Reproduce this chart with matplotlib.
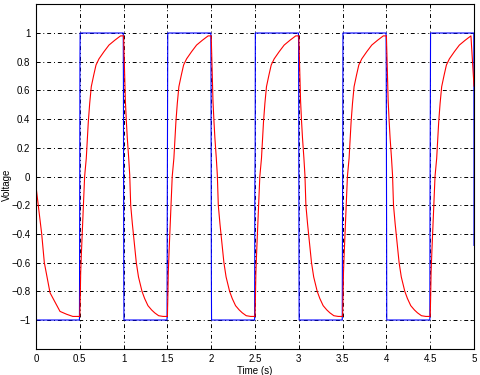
import numpy as np
import matplotlib.pyplot as plt

# red trace (capacitor voltage), offsets inside each half period
first_dt = [0, 0.005, 0.065, 0.095, 0.16, 0.274, 0.35, 0.42]
first_v = [0, -0.094, -0.4, -0.6, -0.81, -0.94, -0.96, -0.975]
rise_dt = [0, 0.005, 0.01, 0.02, 0.032, 0.043, 0.055, 0.074, 0.086, 0.097,
           0.113, 0.131, 0.159, 0.185, 0.219, 0.276, 0.333, 0.4, 0.465]
rise_v = [-0.975, -0.84, -0.67, -0.51, -0.34, -0.175, 0.0, 0.127, 0.254, 0.38,
          0.51, 0.626, 0.707, 0.777, 0.82, 0.87, 0.916, 0.95, 0.98]
fall_dt = [0, 0.005, 0.013, 0.02, 0.031, 0.042, 0.058, 0.07, 0.081, 0.1,
           0.12, 0.145, 0.17, 0.21, 0.24, 0.278, 0.32, 0.355, 0.4, 0.45]
fall_v = [0.98, 0.86, 0.69, 0.53, 0.39, 0.27, 0.13, 0.01, -0.2, -0.33,
          -0.45, -0.6, -0.7, -0.8, -0.85, -0.9, -0.93, -0.95, -0.97, -0.975]
red_end_t = [5.0]
red_end_v = [0.63]

# blue trace (square wave input): level of each half period and the
# intermediate samples seen at each switching instant
half_starts = [0, 0.5, 1.0, 1.5, 2.0, 2.5, 3.0, 3.5, 4.0, 4.5]
blue_levels = [-1, 1, -1, 1, -1, 1, -1, 1, -1, 1]
mid1 = [-0.5, 0.65, -0.37, 0.7, -0.1, 0.9, -0.5, 0.8, -0.2]
mid2 = [0.79, -0.72, 0.5, -0.72, 0.2, -0.5, 0.3, -0.3, 0.6]
blue_end_t = [4.998, 5.0, 5.0]
blue_end_v = [1, 0.12, -0.48]

x_ticks = [0, 0.5, 1, 1.5, 2, 2.5, 3, 3.5, 4, 4.5, 5]
x_labels = ['0', '0.5', '1', '1.5', '2', '2.5', '3', '3.5', '4', '4.5', '5']
y_ticks = [-1, -0.8, -0.6, -0.4, -0.2, 0, 0.2, 0.4, 0.6, 0.8, 1]
y_labels = ['\u22121', '\u22120.8', '\u22120.6', '\u22120.4', '\u22120.2', '0',
            '0.2', '0.4', '0.6', '0.8', '1']


def build_red():
    t = [s for s in first_dt]
    v = [s for s in first_v]
    for k in range(1, len(half_starts)):
        t0 = half_starts[k]
        if blue_levels[k] > 0:
            dts, vs = rise_dt, rise_v
        else:
            dts, vs = fall_dt, fall_v
        t += [t0 + d for d in dts]
        v += list(vs)
    return t + red_end_t, v + red_end_v


def build_blue():
    d = 0.004
    t = [0]
    v = [blue_levels[0]]
    for k in range(1, len(half_starts)):
        t0 = half_starts[k]
        a, b = blue_levels[k - 1], blue_levels[k]
        t += [t0 - d, t0 - d / 2, t0 + d / 2, t0 + d]
        v += [a, mid1[k - 1], mid2[k - 1], b]
    return t + blue_end_t, v + blue_end_v


plt.rcParams['font.family'] = ['Liberation Sans', 'DejaVu Sans']
fig = plt.figure(figsize=(4.8, 3.75), dpi=100)
ax = fig.add_axes([0.075, 0.0701, 0.9125, 0.9184])

tb, vb = build_blue()
tr, vr = build_red()
ax.plot(tb, vb, color='#0000ff', lw=0.8)
ax.plot(tr, vr, color='#ff0000', lw=0.8)

ax.set_xlim(0, 5)
ax.set_ylim(-1.2, 1.2)
ax.set_xticks(x_ticks)
ax.set_xticklabels(x_labels)
ax.set_yticks(y_ticks)
ax.set_yticklabels(y_labels)
ax.grid(True, color='black', lw=0.7, linestyle=(0, (4, 3, 1, 3)))
ax.tick_params(direction='in', length=3, width=0.6, labelsize=7,
               top=True, right=True, pad=4)
for sp in ax.spines.values():
    sp.set_linewidth(0.8)
ax.set_xlabel('Time (s)', fontsize=7, labelpad=1)
ax.set_ylabel('Voltage', fontsize=7)
ax.yaxis.set_label_coords(-0.055, 0.475)

fig.savefig('out.png', dpi=100)
